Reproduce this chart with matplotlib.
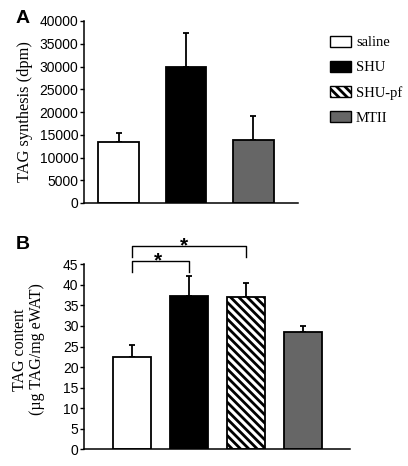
import numpy as np
import matplotlib.pyplot as plt
from matplotlib.patches import Patch

plt.rcParams['hatch.linewidth'] = 2.0

# Groups
groups = ["saline", "SHU", "SHU-pf", "MTII"]
colors = ["white", "black", "white", "#666666"]
hatches = ["", "", "\\\\\\\\", ""]

# Panel A: TAG synthesis (dpm), no SHU-pf group
a_groups = ["saline", "SHU", "MTII"]
a_mean = [13500, 30000, 13900]
a_err = [1900, 7400, 5200]

# Panel B: TAG content
b_groups = ["saline", "SHU", "SHU-pf", "MTII"]
b_mean = [22.4, 37.3, 37.0, 28.5]
b_err = [3.0, 4.9, 3.5, 1.5]

# significance brackets in panel B: (group i, group j, height)
brackets = [(0, 1, 45.9), (0, 2, 49.5)]

fig = plt.figure(figsize=(4.08, 4.66), dpi=100)
tick_font = dict(family="Liberation Sans", size=10)


def style(ax):
    for s in ["top", "right"]:
        ax.spines[s].set_visible(False)
    for s in ["left", "bottom"]:
        ax.spines[s].set_linewidth(1.1)
    ax.tick_params(axis="y", direction="out", length=3, width=1.0, pad=1)
    ax.tick_params(axis="x", length=0)
    ax.set_xticks([])
    for t in ax.get_yticklabels():
        t.set_fontfamily(tick_font["family"])
        t.set_fontsize(tick_font["size"])


# ---- Panel A
axA = fig.add_axes([84 / 408, 1 - 203 / 466, 214 / 408, 182 / 466])
xa = np.arange(len(a_groups))
ca = [colors[groups.index(g)] for g in a_groups]
axA.bar(xa, a_mean, width=0.61, color=ca, edgecolor="black", linewidth=1.3, zorder=2)
axA.errorbar(xa, a_mean, yerr=[np.zeros(len(a_err)), a_err], fmt="none",
             ecolor="black", elinewidth=1.3, capsize=2.5, capthick=1.3, zorder=1)
axA.set_ylim(0, 40000)
axA.set_xlim(-0.52, 2.67)
axA.set_yticks(np.arange(0, 40001, 5000))
style(axA)
axA.set_ylabel("TAG synthesis (dpm)", family="Liberation Serif", size=11.8)
axA.yaxis.set_label_coords(-0.238, 0.5)

# ---- Panel B
axB = fig.add_axes([84 / 408, 1 - 449.3 / 466, 266 / 408, 185 / 466])
xb = np.arange(len(b_groups))
for i, g in enumerate(b_groups):
    k = groups.index(g)
    axB.bar(xb[i], b_mean[i], width=0.67, color=colors[k], edgecolor="black",
            linewidth=1.3, hatch=hatches[k], zorder=2)
axB.errorbar(xb, b_mean, yerr=[np.zeros(len(b_err)), b_err], fmt="none",
             ecolor="black", elinewidth=1.3, capsize=2.5, capthick=1.3, zorder=1)
axB.set_ylim(0, 45)
axB.set_xlim(-0.84, 3.83)
axB.set_yticks(np.arange(0, 46, 5))
style(axB)
axB.set_ylabel("TAG content\n(\u00b5g TAG/mg eWAT)", linespacing=1.05,
               family="Liberation Serif", size=11.5)
axB.yaxis.set_label_coords(-0.147, 0.54)

for i, j, h in brackets:
    axB.plot([i, i, j, j], [h - 2.7, h, h, h - 2.7], color="black", lw=1.0,
             clip_on=False)
    axB.text((i + j) / 2 - 0.045 * (j - i), h - 1.3, "*", ha="center",
             va="baseline", fontsize=15, fontweight="bold",
             family="Liberation Sans")

# panel letters
fig.text(16 / 408, 1 - 23 / 466, "A", fontsize=14, fontweight="bold",
         family="Liberation Sans")
fig.text(16 / 408, 1 - 249 / 466, "B", fontsize=14, fontweight="bold",
         family="Liberation Sans")

# legend
handles = [Patch(facecolor=colors[k], edgecolor="black", hatch=hatches[k],
                 linewidth=1.0) for k in range(len(groups))]
fig.legend(handles, groups, loc="upper left",
           bbox_to_anchor=(324 / 408, 1 - 30 / 466), frameon=False,
           prop=dict(family="Liberation Serif", size=10.5),
           handlelength=1.45, handleheight=0.75, handletextpad=0.35,
           labelspacing=0.8, borderaxespad=0)

fig.savefig("out.png", dpi=100)
